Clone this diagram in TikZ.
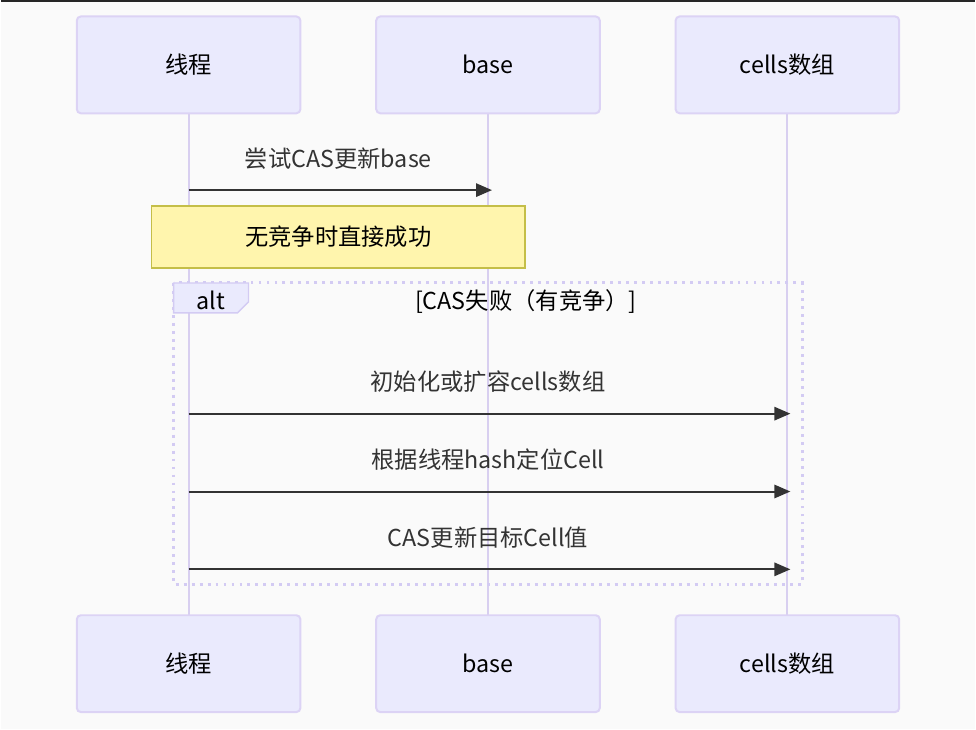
\documentclass[tikz,border=0pt]{standalone}
\usepackage{fontspec}
\setmainfont{Noto Sans CJK SC}
\usetikzlibrary{arrows.meta}
\definecolor{bg}{HTML}{FAFAFA}
\definecolor{actfill}{HTML}{EAEAFD}
\definecolor{actdraw}{HTML}{DCD3F5}
\definecolor{life}{HTML}{D8CFF0}
\definecolor{notefill}{HTML}{FFF5AD}
\definecolor{notedraw}{HTML}{C4BE48}
\definecolor{msg}{HTML}{333333}
\definecolor{altdot}{HTML}{D3CBF3}
\begin{document}
\begin{tikzpicture}[x=0.75pt,y=-0.75pt,
  actor/.style={draw=actdraw,fill=actfill,line width=1.5pt,rounded corners=3pt,minimum width=168pt,minimum height=72.75pt,inner sep=0pt,font=\fontsize{17.5}{20}\selectfont,text=black},
  lifeline/.style={draw=life,line width=1.5pt},
  msgarrow/.style={draw=msg,line width=1.5pt,-{Triangle[length=12pt,width=10pt]}},
  msglabel/.style={font=\fontsize{17.5}{20}\selectfont,text=msg,inner sep=0pt},
  plainlabel/.style={font=\fontsize{17.5}{20}\selectfont,text=black,inner sep=0pt},
  notebox/.style={draw=notedraw,fill=notefill,line width=0.9pt,minimum width=280.5pt,minimum height=46.5pt,inner sep=0pt,font=\fontsize{17.5}{20}\selectfont,text=black}]
\fill[bg] (0,0) rectangle (976,730);
\draw[black!85,line width=1.5pt] (0,0.5) -- (976,0.5);
\useasboundingbox (0,0) rectangle (976,730);
% lifelines
\coordinate (t1) at (188,113); \coordinate (t2) at (188,616);
\coordinate (b1) at (488,113); \coordinate (b2) at (488,616);
\coordinate (c1) at (788,113); \coordinate (c2) at (788,616);
\draw[lifeline] (t1) -- (t2);
\draw[lifeline] (b1) -- (b2);
\draw[lifeline] (c1) -- (c2);
% actors
\node[actor] (T) at (188,64.5) {\raisebox{-2pt}{线程}};
\node[actor] (B) at (488,64.5) {\raisebox{-2pt}{base}};
\node[actor] (C) at (788,64.5) {\raisebox{-2pt}{cells数组}};
\node[actor] (Tb) at (188,664.5) {\raisebox{-2pt}{线程}};
\node[actor] (Bb) at (488,664.5) {\raisebox{-2pt}{base}};
\node[actor] (Cb) at (788,664.5) {\raisebox{-2pt}{cells数组}};
% message 1
\coordinate (m1s) at (188,190); \coordinate (m1e) at (492,190);
\draw[msgarrow] (m1s) -- (m1e);
\node[msglabel] (l1) at (338,158) {尝试CAS更新base};
% note
\node[notebox] (N) at (338,237) {无竞争时直接成功};
% alt frame
\draw[altdot,line width=2.2pt,dash pattern=on 2.2pt off 3.8pt] (173,283) rectangle (803,585);
\draw[draw=altdot,fill=actfill,line width=1pt] (173,283) -- (248,283) -- (248,302) -- (237,313) -- (173,313) -- cycle;
\node[plainlabel] (altl) at (210.5,300) {alt};
\node[plainlabel] (cond) at (526,302) {[CAS失败（有竞争）]};
% messages in alt
\coordinate (m2s) at (188,414); \coordinate (m2e) at (791,414);
\draw[msgarrow] (m2s) -- (m2e);
\node[msglabel] (l2) at (488,382) {初始化或扩容cells数组};
\coordinate (m3s) at (188,492); \coordinate (m3e) at (791,492);
\draw[msgarrow] (m3s) -- (m3e);
\node[msglabel] (l3) at (488,460) {根据线程hash定位Cell};
\coordinate (m4s) at (188,570); \coordinate (m4e) at (791,570);
\draw[msgarrow] (m4s) -- (m4e);
\node[msglabel] (l4) at (488,538) {CAS更新目标Cell值};
\end{tikzpicture}
\end{document}
